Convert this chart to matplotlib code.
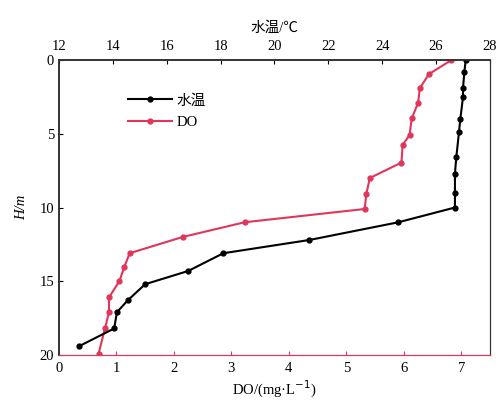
import matplotlib
matplotlib.use("Agg")
import matplotlib.pyplot as plt

# Water temperature profile (top axis)
temp_depth = [0, 0.8, 1.9, 2.5, 4.0, 4.9, 6.6, 7.7, 9.0, 10.0, 11.0, 12.2, 13.1, 14.3, 15.2, 16.3, 17.1, 18.2, 19.4]
temp_vals = [27.1, 27.05, 27.0, 27.0, 26.9, 26.85, 26.75, 26.7, 26.7, 26.7, 24.6, 21.3, 18.1, 16.8, 15.2, 14.55, 14.15, 14.05, 12.75]

# Dissolved oxygen profile (bottom axis)
do_depth = [0, 0.95, 1.9, 2.9, 3.95, 5.1, 5.75, 6.95, 8.0, 9.05, 10.1, 11.0, 12.0, 13.1, 14.0, 15.0, 16.1, 17.1, 18.2, 19.9]
do_vals = [6.83, 6.44, 6.28, 6.25, 6.14, 6.10, 5.98, 5.96, 5.41, 5.35, 5.32, 3.23, 2.15, 1.23, 1.14, 1.05, 0.87, 0.87, 0.80, 0.69]

do_ticks = [0, 1, 2, 3, 4, 5, 6, 7]
temp_ticks = [12, 14, 16, 18, 20, 22, 24, 26, 28]
depth_ticks = [0, 5, 10, 15, 20]

fam = ['Liberation Serif', 'Noto Sans CJK SC']
plt.rcParams['font.family'] = fam
plt.rcParams['font.size'] = 10.5

red = '#e0365a'

fig = plt.figure(figsize=(5.02, 4.01), dpi=100)
ax = fig.add_axes([0.1175, 0.1147, 0.8585, 0.7356])
ax2 = ax.twiny()

l_do, = ax.plot(do_vals, do_depth, color=red, lw=1.5, marker='o', ms=3.5, label='DO')
l_t, = ax2.plot(temp_vals, temp_depth, color='black', lw=1.5, marker='o', ms=3.5, label='水温')

ax.set_xlim(0, 7.5)
ax2.set_xlim(12, 28)
ax.set_ylim(20, 0)
ax.set_xticks(do_ticks)
ax2.set_xticks(temp_ticks)
ax.set_yticks(depth_ticks)

ax.tick_params(direction='in', length=3, labelsize=10.5)
ax.tick_params(axis='x', pad=5)
ax2.tick_params(direction='in', length=3, labelsize=10.5, pad=5)
ax.tick_params(axis='x', colors=red, labelcolor='black')
ax.spines['bottom'].set_color(red)
ax2.spines['bottom'].set_color(red)
for a in (ax, ax2):
    for s in ('top', 'left', 'right'):
        a.spines[s].set_color('#333333')
    a.spines['top'].set_linewidth(1.2)
    a.spines['left'].set_linewidth(1.2)

ax.set_xlabel('DO/(mg·L$^{-1}$)', fontsize=10.5, labelpad=3)
ax2.set_xlabel('水温/℃', fontsize=10.5, labelpad=6)
ax.set_ylabel('H/m', fontsize=10.5, labelpad=8, style='italic')

ax.legend([l_t, l_do], ['水温', 'DO'], loc='upper left', bbox_to_anchor=(0.13, 0.93),
          frameon=False, handlelength=3, fontsize=10.5, labelspacing=0.6, handletextpad=0.3)

fig.savefig('out.png', dpi=100)
